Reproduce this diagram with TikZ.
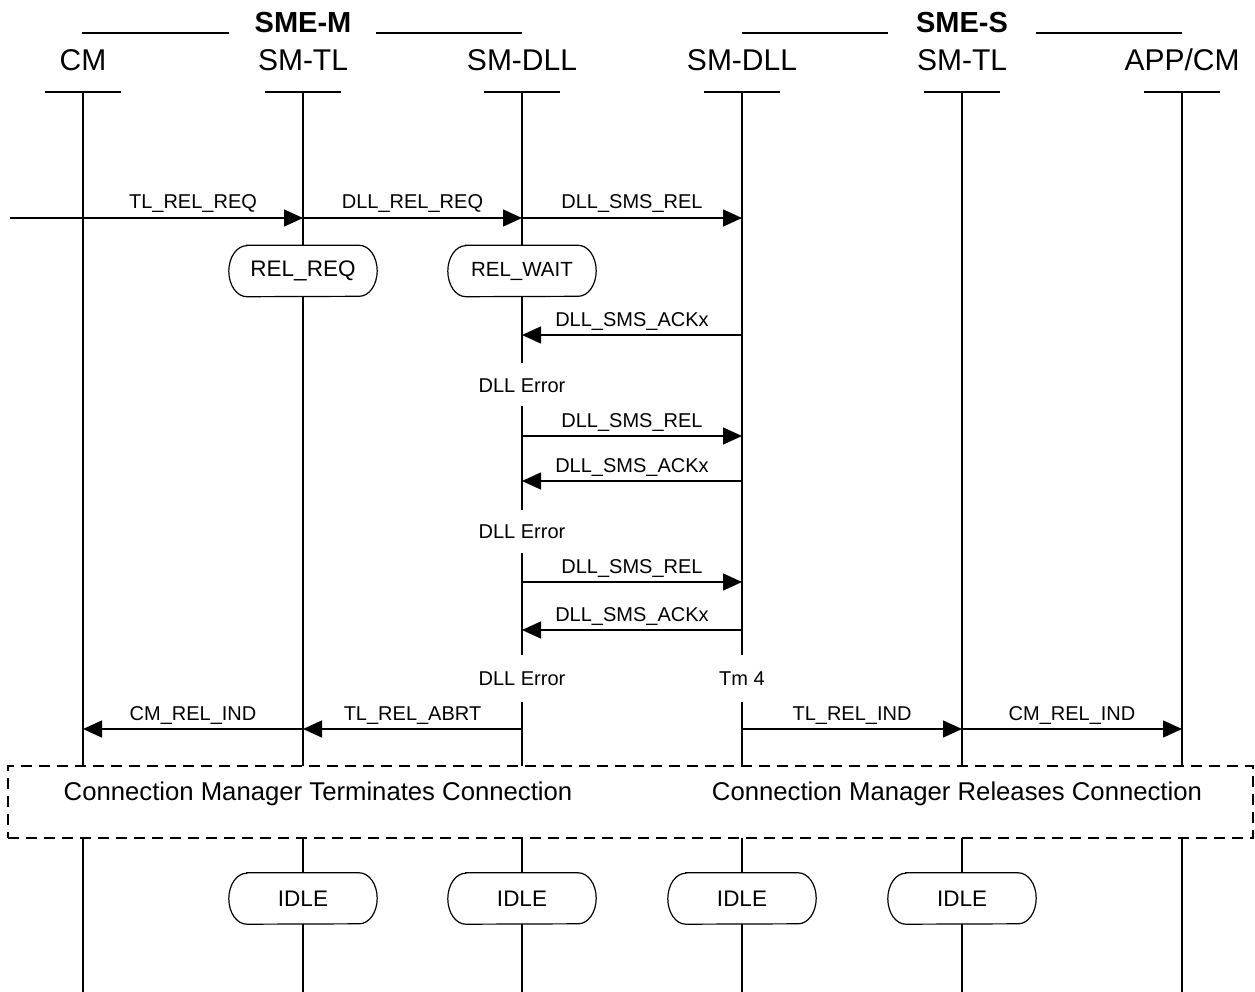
\documentclass[tikz,border=0pt]{standalone}
\usepackage{fontspec}
\setmainfont{Liberation Sans}
\usetikzlibrary{arrows.meta}
\newcommand\stateoutline[1]{%
  \draw[life] ([xshift=18pt]#1.north west) -- ([xshift=-18pt]#1.north east)
    arc[start angle=90,end angle=-90,x radius=18pt,y radius=25.5pt]
    -- ([xshift=18pt]#1.south west)
    arc[start angle=270,end angle=90,x radius=18pt,y radius=25.5pt] -- cycle;}
\begin{document}
\begin{tikzpicture}[x=1pt,y=-1pt,
  life/.style={line width=1.2pt},
  msg/.style={line width=1.4pt,-{Triangle[length=19pt,width=17pt]}},
  lbl/.style={font=\fontsize{20}{24}\selectfont,anchor=base,inner sep=0pt},
  head/.style={font=\fontsize{30}{36}\selectfont,anchor=base,inner sep=0pt},
  grp/.style={font=\fontsize{29}{34}\selectfont\bfseries,anchor=base,inner sep=0pt},
  note/.style={font=\fontsize{25.7}{30}\selectfont,anchor=base,inner sep=0pt},
  statebox/.style={minimum width=148pt,minimum height=51pt,inner sep=0pt},
  dashbox/.style={draw,line width=1.4pt,dash pattern=on 11pt off 7pt,fill=white,minimum width=1245pt,minimum height=72pt,inner sep=0pt}
]
\useasboundingbox (0,0) rectangle (1255,992);

% group headers
\node[grp] (gM) at (303,33) {SME-M};
\node[grp] (gS) at (962,33) {SME-S};
\draw[life] (82,33) -- (229,33);
\draw[life] (376,33) -- (522,33);
\draw[life] (742,33) -- (888,33);
\draw[life] (1036,33) -- (1182,33);

% instance heads
\node[head] (hCM) at (83,71) {CM};
\node[head] (hTLm) at (303,71) {SM-TL};
\node[head] (hDLLm) at (522,71) {SM-DLL};
\node[head] (hDLLs) at (742,71) {SM-DLL};
\node[head] (hTLs) at (962,71) {SM-TL};
\node[head] (hAPP) at (1182,71) {APP/CM};

\foreach \x in {83,303,522,742,962,1182}{
  \draw[life] (\x-38,92) -- (\x+38,92);
}

% state boxes
\node[statebox,font=\fontsize{22.5}{26}\selectfont] (relreq) at (303,271) {REL\_REQ};
\node[statebox,font=\fontsize{20.5}{24}\selectfont] (relwait) at (522,271) {REL\_WAIT};
\node[statebox,font=\fontsize{22.5}{26}\selectfont] (idle1) at (303,898.5) {IDLE};
\node[statebox,font=\fontsize{22.5}{26}\selectfont] (idle2) at (522,898.5) {IDLE};
\node[statebox,font=\fontsize{22.5}{26}\selectfont] (idle3) at (742,898.5) {IDLE};
\node[statebox,font=\fontsize{22.5}{26}\selectfont] (idle4) at (962,898.5) {IDLE};
\stateoutline{relreq}
\stateoutline{relwait}
\stateoutline{idle1}
\stateoutline{idle2}
\stateoutline{idle3}
\stateoutline{idle4}

% dashed region
\node[dashbox] (region) at (630.5,802) {};
\node[note] (tTerm) at (318,800) {Connection Manager Terminates Connection};
\node[note] (tRel) at (957,800) {Connection Manager Releases Connection};

% lifelines
\draw[life] (83,92) -- (83,766) (83,838) -- (83,992);
\draw[life] (303,92) -- (relreq.north) (relreq.south) -- (303,766) (303,838) -- (idle1.north) (idle1.south) -- (303,992);
\draw[life] (522,92) -- (relwait.north) (relwait.south) -- (522,363) (522,406) -- (522,510) (522,553) -- (522,655) (522,702) -- (522,766) (522,838) -- (idle2.north) (idle2.south) -- (522,992);
\draw[life] (742,92) -- (742,655) (742,702) -- (742,766) (742,838) -- (idle3.north) (idle3.south) -- (742,992);
\draw[life] (962,92) -- (962,766) (962,838) -- (idle4.north) (idle4.south) -- (962,992);
\draw[life] (1182,92) -- (1182,766) (1182,838) -- (1182,992);

% lifeline notes
\node[lbl] (err1) at (522,392) {DLL Error};
\node[lbl] (err2) at (522,538) {DLL Error};
\node[lbl] (err3) at (522,685) {DLL Error};
\node[lbl] (tm4) at (742,685) {Tm 4};

% message end points
\coordinate (m1a) at (10,218);   \coordinate (m1b) at (303,218);
\coordinate (m2a) at (303,218);  \coordinate (m2b) at (522,218);
\coordinate (m3a) at (522,218);  \coordinate (m3b) at (742,218);
\coordinate (m4a) at (742,335);  \coordinate (m4b) at (522,335);
\coordinate (m5a) at (522,436);  \coordinate (m5b) at (742,436);
\coordinate (m6a) at (742,481);  \coordinate (m6b) at (522,481);
\coordinate (m7a) at (522,582);  \coordinate (m7b) at (742,582);
\coordinate (m8a) at (742,630);  \coordinate (m8b) at (522,630);
\coordinate (m9a) at (303,729);  \coordinate (m9b) at (83,729);
\coordinate (m10a) at (522,729); \coordinate (m10b) at (303,729);
\coordinate (m11a) at (742,729); \coordinate (m11b) at (962,729);
\coordinate (m12a) at (962,729); \coordinate (m12b) at (1182,729);

% messages
\draw[msg] (m1a) -- (m1b);
\node[lbl] (l1) at (193,209) {TL\_REL\_REQ};
\draw[msg] (m2a) -- (m2b);
\node[lbl] (l2) at (412.5,209) {DLL\_REL\_REQ};
\draw[msg] (m3a) -- (m3b);
\node[lbl] (l3) at (632,209) {DLL\_SMS\_REL};
\draw[msg] (m4a) -- (m4b);
\node[lbl] (l4) at (632,326) {DLL\_SMS\_ACKx};
\draw[msg] (m5a) -- (m5b);
\node[lbl] (l5) at (632,427) {DLL\_SMS\_REL};
\draw[msg] (m6a) -- (m6b);
\node[lbl] (l6) at (632,472) {DLL\_SMS\_ACKx};
\draw[msg] (m7a) -- (m7b);
\node[lbl] (l7) at (632,573) {DLL\_SMS\_REL};
\draw[msg] (m8a) -- (m8b);
\node[lbl] (l8) at (632,621) {DLL\_SMS\_ACKx};
\draw[msg] (m9a) -- (m9b);
\node[lbl] (l9) at (193,720) {CM\_REL\_IND};
\draw[msg] (m10a) -- (m10b);
\node[lbl] (l10) at (412.5,720) {TL\_REL\_ABRT};
\draw[msg] (m11a) -- (m11b);
\node[lbl] (l11) at (852,720) {TL\_REL\_IND};
\draw[msg] (m12a) -- (m12b);
\node[lbl] (l12) at (1072,720) {CM\_REL\_IND};
\end{tikzpicture}
\end{document}
